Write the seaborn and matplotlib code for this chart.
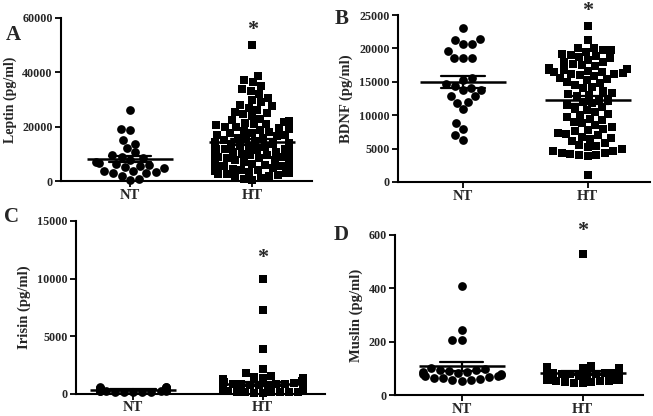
import numpy as np
import pandas as pd
import matplotlib
matplotlib.use("Agg")
import matplotlib.pyplot as plt
import seaborn as sns

sns.set_theme(style="ticks")
plt.rcParams['font.family'] = ['Liberation Serif', 'DejaVu Serif']
plt.rcParams['font.weight'] = 'bold'

groups = ["NT", "HT"]

leptin_nt = [26000, 19000, 18800, 15000, 13800, 12200, 10500, 9500, 9000, 8500,
             7800, 7000, 6500, 6200, 6000, 5500, 5200, 4800, 3800, 3500,
             3200, 3000, 2800, 1800, 800, 400]
leptin_ht = [50000, 38800, 37200, 36300, 35000, 34000, 33300, 32000, 30600, 30000,
             29000, 28000, 27500, 27000, 26200, 25500, 25000, 24500, 23800, 23000,
             22500, 22000, 21800, 21500, 21000, 20800, 20500, 20000, 19800, 19500,
             19000, 18800, 18500, 18000, 17800, 17500, 17000, 16800, 16500, 16000,
             15800, 15500, 15000, 14600, 14300, 13900, 13700, 13400, 13100, 12900,
             12700, 12400, 12100, 11900, 11700, 11400, 11100, 10900, 10700, 10400,
             10100, 9900, 9700, 9400, 9100, 8900, 8700, 8400, 8100, 7900,
             7700, 7400, 7100, 6900, 6700, 6400, 6100, 5900, 5700, 5400,
             5100, 4900, 4700, 4400, 4100, 3900, 3700, 3400, 3100, 2900,
             2700, 2400, 2100, 1900, 1600, 1200, 900, 500, 13600, 12600,
             11600, 10600, 9600, 8600, 7600, 6600, 5600, 4600, 3600]

bdnf_nt = [23000, 21400, 21200, 20700, 20600, 19600, 18600, 18600, 18500, 15600,
           15200, 14600, 14300, 14000, 13800, 13700, 12900, 12800, 12000, 11900,
           10900, 8900, 8000, 7000, 6300]
bdnf_ht = [23400, 21200, 20100, 20000, 19800, 19700, 19500, 19200, 19000, 18900,
           18700, 18500, 18300, 18000, 17900, 17700, 17500, 17300, 17000, 16900,
           16800, 16700, 16600, 16500, 16400, 16300, 16200, 16100, 16000, 15800,
           15600, 15400, 15200, 15000, 14800, 14500, 14200, 14000, 13600, 13300,
           13100, 13000, 12800, 12500, 12200, 12000, 11800, 11500, 11300, 11000,
           10800, 10500, 10200, 10000, 9800, 9500, 9300, 9000, 8800, 8500,
           8200, 8000, 7800, 7600, 7400, 7200, 7000, 6800, 6600, 6400,
           6200, 5800, 5600, 5400, 5200, 5000, 4700, 4600, 4400, 4300,
           4200, 4100, 4000, 3900, 1000]

irisin_nt = [650, 600, 580, 550, 520, 500, 480, 450, 430, 400, 380, 360, 350,
             330, 320, 300, 280, 260, 250, 230, 210, 200, 180, 160, 150]
irisin_ht = [10000, 7300, 3900, 2200, 1800, 1600, 1500, 1400, 1350, 1300,
             1200, 1150, 1100, 1000, 950, 900, 850, 800, 750, 700,
             650, 600, 550, 500, 480, 450, 420, 400, 380, 350,
             330, 300, 280, 250, 230, 200, 180, 150, 120, 100,
             900, 800, 700, 600, 500, 400, 300, 200, 850, 750,
             650, 550, 450, 350, 250, 150, 620, 520, 420, 320,
             220, 580, 480, 380, 280, 180, 680, 460, 360, 260]

muslin_nt = [408, 242, 207, 207, 100, 98, 95, 92, 90, 88, 85, 82, 80, 78,
             75, 72, 70, 68, 65, 62, 60, 58, 55, 52]
muslin_ht = [530, 110, 105, 102, 100, 98, 96, 95, 93, 92, 90, 88, 87, 85,
             84, 82, 80, 79, 78, 76, 75, 74, 72, 71, 70, 69, 68, 66, 65,
             64, 62, 61, 60, 58, 57, 56, 55, 54, 52, 50, 48, 46, 90, 85,
             80, 75, 70, 65, 60, 55, 88, 78, 68, 58, 94, 84, 74, 64, 54, 44]

panels = [
    dict(nt=leptin_nt, ht=leptin_ht, label="Leptin (pg/ml)", letter="A",
         ticks=[0, 20000, 40000, 60000], top=60000, star=55500, star_va="center",
         rect=[61, 18, 251, 163], xlim=(-0.566, 1.49), letter_xy=(6, 40),
         spread=(68, 74), lab_fs=10, xpad=2),
    dict(nt=bdnf_nt, ht=bdnf_ht, label="BDNF (pg/ml)", letter="B",
         ticks=[0, 5000, 10000, 15000, 20000, 25000], top=25000, star=27150,
         star_va="top", rect=[398, 15, 252, 167], xlim=(-0.52, 1.5),
         letter_xy=(335, 24), spread=(60, 78), lab_fs=10.5, xpad=2),
    dict(nt=irisin_nt, ht=irisin_ht, label="Irisin (pg/ml)", letter="C",
         ticks=[0, 5000, 10000, 15000], top=15000, star=11800, star_va="center",
         rect=[76, 221, 249, 173], xlim=(-0.44, 1.48), letter_xy=(4, 222),
         spread=(66, 80), lab_fs=10.5, xpad=1),
    dict(nt=muslin_nt, ht=muslin_ht, label="Muslin (pg/ml)", letter="D",
         ticks=[0, 200, 400, 600], top=600, star=615, star_va="center",
         rect=[395, 235, 248, 160], xlim=(-0.55, 1.5), letter_xy=(334, 240),
         spread=(78, 72), lab_fs=10.5, xpad=2),
]

W, H = 653, 416
fig = plt.figure(figsize=(W / 100, H / 100), dpi=100)

for p in panels:
    x0, y0, w, h = p["rect"]
    rect = [x0 / W, 1 - (y0 + h) / H, w / W, h / H]
    ax = fig.add_axes(rect)
    df_nt = pd.DataFrame({"group": "NT", "value": p["nt"]})
    df_ht = pd.DataFrame({"group": "HT", "value": p["ht"]})
    df = pd.concat([df_nt, df_ht], ignore_index=True)

    sns.pointplot(data=df, x="group", y="value", order=groups, ax=ax,
                  color="black", errorbar="se", capsize=0.35, linestyle="none",
                  marker="_", markersize=62, markeredgewidth=1.8,
                  err_kws={"linewidth": 1.6})
    for ln in ax.lines:
        ln.set_zorder(5)
        ln.set_clip_on(False)
    xl0, xl1 = p["xlim"]
    ax.set_xlim(xl0, xl1)
    ax.set_ylim(0, p["top"])

    # swarm of each group on its own transparent layer so its spread matches
    for i, (g, d, mk, sz) in enumerate([("NT", df_nt, "o", 6.3), ("HT", df_ht, "s", 6.0)]):
        center_px = (i - xl0) / (xl1 - xl0) * w
        unit = p["spread"][i] / 0.8
        axo = fig.add_axes(rect, label=f"{p['letter']}_{g}")
        sns.swarmplot(data=d, x="group", y="value", order=[g], ax=axo,
                      color="black", marker=mk, size=sz, linewidth=0, warn_thresh=1)
        axo.set_xlim(-center_px / unit, (w - center_px) / unit)
        axo.set_ylim(0, p["top"])
        axo.axis("off")
        for coll in axo.collections:
            coll.set_clip_on(False)

    ax.set_yticks(p["ticks"])
    ax.set_yticklabels([str(t) for t in p["ticks"]], fontsize=8.7, fontweight="bold")
    ax.set_xticks([0, 1])
    ax.set_xticklabels(groups, fontsize=10.5, fontweight="bold")
    ax.set_xlabel("")
    ax.set_ylabel(p["label"], fontsize=p["lab_fs"], fontweight="bold", labelpad=4)
    sns.despine(ax=ax)
    for s in ["left", "bottom"]:
        ax.spines[s].set_linewidth(1.5)
        ax.spines[s].set_color("black")
    ax.tick_params(axis="both", direction="out", length=4, width=1.3, color="black",
                   pad=2)
    ax.tick_params(axis="x", pad=p["xpad"])
    ax.text(1, p["star"], "*", ha="center", va=p["star_va"], fontsize=16,
            fontweight="bold", clip_on=False)
    fig.text(p["letter_xy"][0] / W, 1 - p["letter_xy"][1] / H, p["letter"],
             fontsize=15, fontweight="bold", ha="left", va="baseline")

fig.savefig("out.png", dpi=100)
